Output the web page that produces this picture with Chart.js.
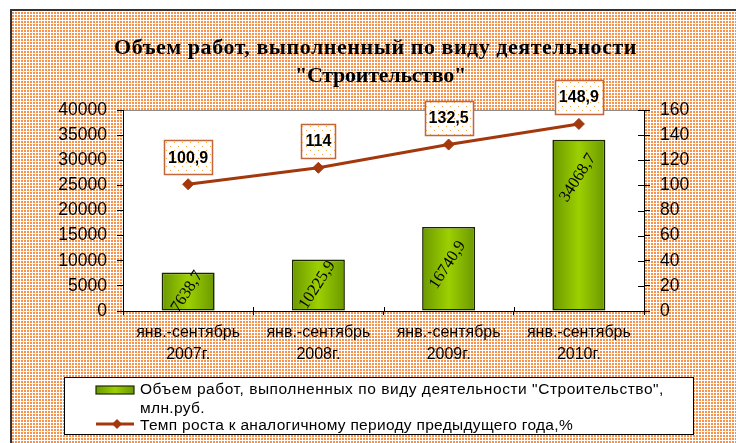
<!DOCTYPE html>
<html>
<head>
<meta charset="utf-8">
<script src="https://cdn.jsdelivr.net/npm/chart.js@4"></script>
<style>
html,body{margin:0;padding:0;background:#fff;}
#wrap{width:736px;height:443px;position:relative;overflow:hidden;}
canvas{display:block;}
</style>
</head>
<body>
<div id="wrap"><canvas id="c" width="736" height="443"></canvas></div>
<script>
// ---- data ----
const categories = [
  ["янв.-сентябрь", "2007г."],
  ["янв.-сентябрь", "2008г."],
  ["янв.-сентябрь", "2009г."],
  ["янв.-сентябрь", "2010г."]
];
const volumeValues = [7638.7, 10225.9, 16740.9, 34068.7];
const volumeLabels = ["7638,7", "10225,9", "16740,9", "34068,7"];
const growthValues = [100.9, 114, 132.5, 148.9];
const growthLabels = ["100,9", "114", "132,5", "148,9"];
const leftAxisTicks = [0, 5000, 10000, 15000, 20000, 25000, 30000, 35000, 40000];
const rightAxisTicks = [0, 20, 40, 60, 80, 100, 120, 140, 160];
const titleLines = ["Объем работ, выполненный по виду деятельности", "\"Строительство\""];
const legendVolumeLines = ["Объем работ, выполненных по виду деятельности \"Строительство\",", "млн.руб."];
const legendGrowthText = "Темп роста к аналогичному периоду предыдущего года,%";

// ---- styling helpers ----
const SANS = "'Liberation Sans', Arial, sans-serif";
const SERIF = "'Liberation Serif', 'Times New Roman', serif";
const LINE_COLOR = '#a3380c';
const BAR_PCT = 0.407;

function makePattern(ctx, size, bg, dots) {
  const c = document.createElement('canvas');
  c.width = size; c.height = size;
  const g = c.getContext('2d');
  g.fillStyle = bg; g.fillRect(0, 0, size, size);
  dots.forEach(d => { g.fillStyle = d[4]; g.fillRect(d[0], d[1], d[2], d[3]); });
  return ctx.createPattern(c, 'repeat');
}

function fittedText(ctx, text, x, y, target) {
  ctx.letterSpacing = '0px';
  const w = ctx.measureText(text).width;
  const n = [...text].length;
  const ls = (target - w) / n;
  ctx.letterSpacing = ls.toFixed(3) + 'px';
  ctx.textAlign = 'left';
  ctx.fillText(text, x, y);
  ctx.letterSpacing = '0px';
}

function barGradient(ctx, x0, x1) {
  const g = ctx.createLinearGradient(x0, 0, x1, 0);
  g.addColorStop(0, '#6b9800');
  g.addColorStop(0.5, '#9dd000');
  g.addColorStop(1, '#6b9800');
  return g;
}

const cv = document.getElementById('c');
const ctx0 = cv.getContext('2d');
const bgPattern = makePattern(ctx0, 3, '#ffffff', [[0, 0, 2, 2, '#fb9148']]);
const boxPattern = makePattern(ctx0, 8, '#ffffff', [[2, 2, 1, 1, '#f5a540'], [6, 6, 1, 1, '#f5a540']]);

const decorPlugin = {
  id: 'decor',
  beforeDraw(chart) {
    const ctx = chart.ctx;
    const a = chart.chartArea;
    ctx.save();
    ctx.fillStyle = '#ffffff';
    ctx.fillRect(0, 0, chart.width, chart.height);
    ctx.fillStyle = bgPattern;
    ctx.fillRect(12, 11, chart.width - 12, chart.height - 11);
    ctx.strokeStyle = '#333333';
    ctx.lineWidth = 2;
    ctx.beginPath();
    ctx.moveTo(11, chart.height);
    ctx.lineTo(11, 10);
    ctx.lineTo(chart.width, 10);
    ctx.stroke();
    // plot area
    ctx.fillStyle = '#ffffff';
    ctx.fillRect(a.left, a.top, a.width, a.height);
    ctx.strokeStyle = '#8c8c8c';
    ctx.lineWidth = 1;
    ctx.beginPath();
    ctx.moveTo(a.left, a.top + 0.5);
    ctx.lineTo(a.right, a.top + 0.5);
    ctx.stroke();
    ctx.restore();
  },
  afterDatasetsDraw(chart) {
    const ctx = chart.ctx;
    const a = chart.chartArea;
    const yr = chart.scales.y2;
    ctx.save();
    // inward tick parts (right axis and category boundaries)
    ctx.strokeStyle = '#000';
    ctx.lineWidth = 1;
    ctx.beginPath();
    rightAxisTicks.forEach(v => {
      const py = Math.round(yr.getPixelForValue(v)) + 0.5;
      ctx.moveTo(a.right - 6, py); ctx.lineTo(a.right, py);
    });
    const step = a.width / categories.length;
    for (let i = 1; i < categories.length; i++) {
      const px = Math.round(a.left + step * i) + 0.5;
      ctx.moveTo(px, a.bottom - 4); ctx.lineTo(px, a.bottom);
    }
    ctx.stroke();

    // bar value labels (rotated)
    const barMeta = chart.getDatasetMeta(0);
    ctx.fillStyle = '#000';
    ctx.font = '16.5px ' + SERIF;
    ctx.textAlign = 'center';
    ctx.textBaseline = 'middle';
    barMeta.data.forEach((el, i) => {
      const top = el.y, bottom = el.base;
      const cy = Math.min(top + 38, (top + bottom) / 2);
      ctx.save();
      ctx.translate(el.x - 1, cy);
      ctx.rotate(-57 * Math.PI / 180);
      ctx.fillText(volumeLabels[i], 0, 0);
      ctx.restore();
    });

    // line value label boxes
    const lineMeta = chart.getDatasetMeta(1);
    ctx.font = 'bold 16px ' + SANS;
    lineMeta.data.forEach((el, i) => {
      const t = growthLabels[i];
      const tw = ctx.measureText(t).width;
      const w = Math.round(tw + 8), h = 34;
      const cx = el.x, cy = el.y - 27;
      const x0 = Math.round(cx - w / 2), y0 = Math.round(cy - h / 2);
      ctx.fillStyle = boxPattern;
      ctx.fillRect(x0, y0, w, h);
      ctx.strokeStyle = '#c2653d';
      ctx.lineWidth = 1.5;
      ctx.strokeRect(x0 + 0.5, y0 + 0.5, w, h);
      ctx.fillStyle = '#000';
      ctx.fillText(t, cx, cy + 1);
    });
    ctx.restore();
  },
  afterDraw(chart) {
    const ctx = chart.ctx;
    ctx.save();
    // title
    ctx.fillStyle = '#000';
    ctx.textBaseline = 'alphabetic';
    ctx.font = 'bold 22px ' + SERIF;
    fittedText(ctx, titleLines[0], 114, 54, 523);
    fittedText(ctx, titleLines[1], 295, 82, 171);

    // legend
    ctx.fillStyle = '#ffffff';
    ctx.fillRect(64, 377, 629, 57);
    ctx.strokeStyle = '#000';
    ctx.lineWidth = 1;
    ctx.strokeRect(64.5, 377.5, 629, 57);
    // bar swatch
    ctx.fillStyle = barGradient(ctx, 96, 134);
    ctx.fillRect(96, 386, 38, 8);
    ctx.strokeStyle = '#1e2a00';
    ctx.lineWidth = 1.2;
    ctx.strokeRect(96, 386, 38, 8);
    // line swatch
    ctx.strokeStyle = LINE_COLOR;
    ctx.lineWidth = 3;
    ctx.beginPath();
    ctx.moveTo(96, 424); ctx.lineTo(134, 424);
    ctx.stroke();
    ctx.fillStyle = LINE_COLOR;
    ctx.beginPath();
    ctx.moveTo(117, 419); ctx.lineTo(122, 424); ctx.lineTo(117, 429); ctx.lineTo(112, 424);
    ctx.closePath(); ctx.fill();
    // legend text
    ctx.fillStyle = '#000';
    ctx.font = '15.5px ' + SANS;
    fittedText(ctx, legendVolumeLines[0], 140, 394, 524);
    fittedText(ctx, legendVolumeLines[1], 140, 413, 65);
    fittedText(ctx, legendGrowthText, 140, 430, 433);
    ctx.restore();
  }
};

new Chart(cv, {
  data: {
    labels: categories,
    datasets: [
      {
        type: 'bar',
        label: legendVolumeLines.join(' '),
        data: volumeValues,
        yAxisID: 'y',
        order: 2,
        categoryPercentage: 1,
        barPercentage: BAR_PCT,
        borderColor: '#1a2600',
        borderWidth: 1.6,
        borderSkipped: false,
        backgroundColor: (c) => {
          const chart = c.chart;
          const a = chart.chartArea;
          if (!a || c.type !== 'data') return '#8cc000';
          const xs = chart.scales.x;
          const px = xs.getPixelForValue(c.dataIndex);
          const half = (a.width / categories.length) * BAR_PCT / 2;
          return barGradient(chart.ctx, px - half, px + half);
        }
      },
      {
        type: 'line',
        label: legendGrowthText,
        data: growthValues,
        yAxisID: 'y2',
        order: 1,
        borderColor: LINE_COLOR,
        borderWidth: 3,
        tension: 0,
        pointStyle: 'rectRot',
        pointRadius: 5.5,
        pointHoverRadius: 5.5,
        pointBackgroundColor: LINE_COLOR,
        pointBorderColor: LINE_COLOR,
        pointBorderWidth: 1
      }
    ]
  },
  options: {
    responsive: false,
    animation: false,
    devicePixelRatio: 1,
    layout: { padding: { top: 110, left: 38, right: 32, bottom: 82 } },
    plugins: {
      legend: { display: false },
      title: { display: false },
      tooltip: { enabled: false }
    },
    events: [],
    scales: {
      x: {
        type: 'category',
        offset: true,
        grid: { offset: true, drawOnChartArea: false, drawTicks: true, tickLength: 4, color: '#000', lineWidth: 1 },
        border: { display: true, color: '#000', width: 1 },
        ticks: {
          autoSkip: false, maxRotation: 0, minRotation: 0, padding: 6,
          color: '#000',
          font: { family: SANS, size: 16, lineHeight: 1.4 }
        },
        afterFit(scale) { scale.height = 50; }
      },
      y: {
        type: 'linear',
        position: 'left',
        min: 0, max: 40000,
        afterBuildTicks(scale) { scale.ticks = leftAxisTicks.map(v => ({ value: v })); },
        grid: { drawOnChartArea: false, drawTicks: true, tickLength: 6, color: '#000', lineWidth: 1 },
        border: { display: true, color: '#000', width: 1 },
        ticks: {
          padding: 10, color: '#000',
          font: { family: SANS, size: 17.5 },
          callback: (v) => String(v)
        },
        afterFit(scale) { scale.width = 85; }
      },
      y2: {
        type: 'linear',
        position: 'right',
        min: 0, max: 160,
        afterBuildTicks(scale) { scale.ticks = rightAxisTicks.map(v => ({ value: v })); },
        grid: { drawOnChartArea: false, drawTicks: true, tickLength: 6, color: '#000', lineWidth: 1 },
        border: { display: true, color: '#000', width: 1 },
        ticks: {
          padding: 10, color: '#000',
          font: { family: SANS, size: 17.5 },
          callback: (v) => String(v)
        },
        afterFit(scale) { scale.width = 60; }
      }
    }
  },
  plugins: [decorPlugin]
});
</script>
</body>
</html>
